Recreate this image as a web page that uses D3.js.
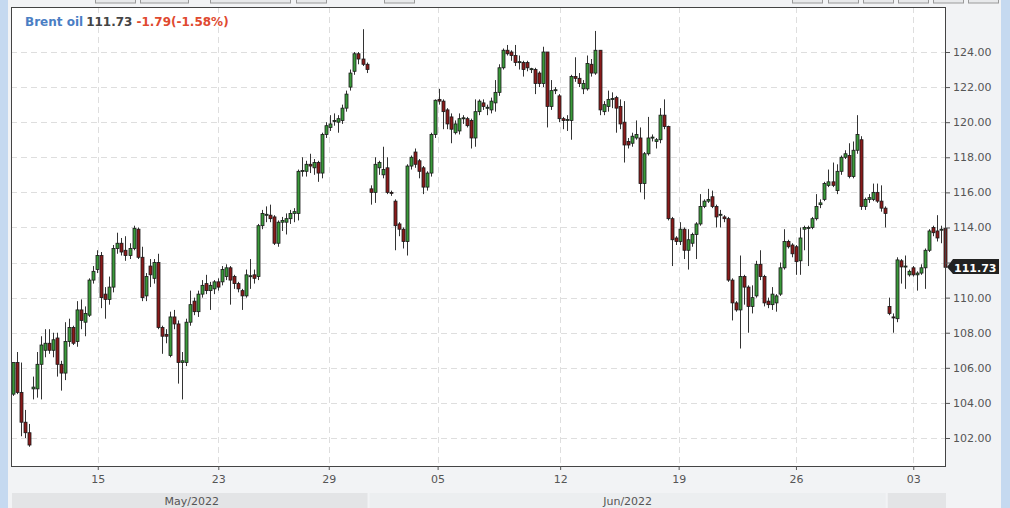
<!DOCTYPE html>
<html><head><meta charset="utf-8">
<script src="https://cdn.jsdelivr.net/npm/d3@7/dist/d3.min.js"></script>
<style>
html,body{margin:0;padding:0;background:#f2f3f5;}
svg{display:block;font-family:"DejaVu Sans",sans-serif;}
</style></head>
<body>
<svg id="chart" width="1010" height="508"></svg>
<script>
// ---- data (4-hour candles, Brent oil, May-Jul 2022) ----
const open  = [104.5,106.3,104.6,102.9,102.3,104.8,104.8,106.2,107.0,107.4,107.0,107.7,106.2,105.7,107.5,108.3,107.5,109.3,108.6,109.0,111.0,111.6,112.4,110.2,109.9,110.6,112.8,113.1,112.7,112.4,112.8,113.9,112.3,110.1,111.8,111.1,112.0,108.3,107.9,106.7,108.9,108.5,106.3,106.3,108.6,109.8,109.2,110.2,110.8,
110.4,110.5,110.9,110.9,111.2,111.7,111.2,110.8,110.4,110.1,111.2,111.3,111.2,114.1,114.7,114.7,114.6,113.1,114.3,114.3,114.5,114.8,114.8,117.2,117.2,117.6,117.4,117.7,117.1,119.3,119.7,120.1,120.0,120.1,120.8,122.0,122.9,123.9,123.6,123.3,
116.2,116.0,117.4,117.0,117.4,116.0,115.5,114.2,113.9,113.2,117.5,118.3,117.8,117.4,116.3,117.1,119.3,121.3,121.2,120.7,120.3,119.4,119.5,120.2,120.2,120.1,119.1,120.6,121.1,120.8,120.7,121.1,121.7,123.1,124.1,124.0,123.8,123.4,123.4,123.4,123.0,123.0,122.8,122.2,124.0,120.9,121.8,121.5,120.2,120.1,120.1,122.6,122.5,
121.9,121.9,123.3,122.8,124.1,120.6,120.9,121.3,121.4,120.9,120.0,118.9,118.8,119.1,119.1,116.5,118.2,119.1,118.9,119.0,120.4,119.75,114.5,113.4,113.2,113.9,112.7,113.1,113.6,114.2,115.2,115.5,115.75,115.2,114.7,114.6,114.5,111.0,109.7,109.3,111.2,110.6,109.5,110.1,111.9,111.2,109.8,109.6,
109.7,110.2,111.7,113.2,113.0,112.9,112.1,113.9,113.95,114.0,114.5,115.3,115.6,116.4,116.6,116.1,117.2,118.0,118.1,116.9,118.4,119.0,115.2,115.6,115.6,116.0,115.5,115.1,109.5,108.9,108.8,112.1,111.8,111.3,111.7,111.3,111.4,111.7,112.7,114.0,113.8,113.9,113.95];
const high  = [106.3,106.9,106.3,103.6,102.8,105.5,106.9,107.8,108.2,108.2,108.0,108.0,106.4,108.6,108.8,108.4,109.8,109.9,109.5,111.1,111.8,112.7,112.6,110.6,111.2,113.0,113.7,113.4,113.5,113.1,114.1,114.0,112.9,111.4,112.2,112.2,112.5,108.4,108.2,109.2,109.3,108.7,106.9,108.8,110.4,110.0,110.4,111.0,111.3,
110.9,111.0,111.1,111.8,111.9,111.8,111.3,110.9,110.5,111.6,112.2,111.6,114.2,115.0,115.2,115.3,114.7,114.4,114.6,114.8,115.0,115.1,117.3,118.0,117.8,118.2,117.9,117.8,119.4,120.0,120.4,120.5,120.4,121.0,121.8,123.0,124.0,124.0,125.3,123.4,
116.4,118.0,117.8,118.6,118.0,116.1,115.6,114.3,114.0,117.6,118.1,118.5,117.9,117.5,117.2,119.4,121.3,121.9,121.3,120.8,120.5,120.1,120.5,120.4,120.3,120.2,121.3,121.3,121.3,121.0,121.4,122.4,123.3,124.2,124.4,124.1,124.4,123.8,123.5,123.5,123.1,123.1,122.9,124.3,124.0,122.4,122.0,121.6,120.3,120.4,122.7,123.7,122.8,
122.4,123.8,123.6,125.2,124.1,121.2,121.8,121.7,121.5,121.3,121.2,119.1,119.4,120.1,119.7,118.3,120.3,119.3,119.1,120.8,121.3,119.8,114.6,113.5,114.3,114.0,113.9,113.7,114.3,115.9,115.6,116.2,116.1,115.3,115.0,114.7,114.6,111.1,109.8,112.4,111.3,110.7,110.7,112.1,112.7,111.3,110.0,110.6,
110.2,112.0,113.9,113.3,113.1,113.0,114.0,114.1,114.1,114.6,115.9,115.6,116.6,117.3,117.7,117.6,118.1,118.4,118.8,118.9,120.4,119.2,115.7,115.9,116.5,116.5,116.4,115.2,110.0,109.1,112.3,112.2,112.4,111.6,111.8,111.5,111.9,112.8,113.9,114.1,114.7,114.1,114.0];
const low   = [104.4,104.5,102.1,102.0,101.5,104.2,104.3,104.2,106.6,106.8,106.6,105.5,104.7,105.3,107.2,107.3,107.2,108.2,107.8,108.9,110.8,111.4,109.4,108.8,109.6,110.3,112.5,112.4,112.1,112.2,112.7,112.2,109.8,109.8,110.6,110.8,108.2,106.8,107.4,106.6,108.2,105.1,104.2,106.1,108.4,109.0,108.9,110.0,110.2,
109.3,110.2,110.4,110.7,111.0,109.6,110.5,110.3,109.3,110.0,110.5,110.8,111.0,113.9,114.3,114.3,113.0,112.9,113.8,113.6,114.2,114.3,114.4,116.9,116.9,117.1,117.0,116.6,116.8,119.1,119.5,119.8,119.4,119.9,120.6,121.8,122.7,123.3,123.2,122.8,
115.3,115.4,117.0,116.8,115.9,115.8,112.7,113.5,112.8,112.4,117.3,117.4,116.8,115.9,116.1,116.9,119.1,121.0,119.6,119.6,118.8,119.3,119.3,119.9,119.7,118.5,118.6,120.4,120.7,120.4,120.5,120.6,121.5,123.0,123.8,123.5,123.2,123.0,122.6,122.9,122.8,121.6,122.0,122.0,119.7,120.7,121.6,120.0,119.6,119.5,119.0,122.3,122.0,
121.6,121.8,122.6,122.7,120.4,120.4,120.6,120.8,119.4,119.6,117.7,118.5,118.6,119.0,116.0,115.6,118.1,118.9,118.5,118.8,119.6,114.4,111.8,113.0,113.0,112.2,111.6,112.9,112.2,114.1,115.1,115.4,115.1,114.0,114.0,114.3,110.9,108.7,109.2,107.1,109.6,108.0,109.1,110.0,111.0,109.5,109.4,109.3,
109.2,110.1,111.6,112.8,112.3,111.3,111.3,112.7,111.8,113.9,114.4,115.1,115.5,116.3,116.3,115.9,117.0,117.9,116.8,116.8,118.2,115.0,115.0,115.4,115.5,115.4,114.9,114.0,109.0,108.0,108.6,110.8,110.5,111.2,111.2,110.4,111.3,110.5,112.6,113.5,113.2,113.1,111.6];
const close = [106.3,104.6,102.9,102.3,101.6,104.9,106.2,107.3,107.4,107.0,107.6,106.2,105.7,107.5,108.3,107.4,109.3,108.7,109.1,111.0,111.5,112.4,110.0,109.9,110.6,112.8,113.1,112.6,112.4,112.8,113.95,112.3,110.0,111.2,111.3,112.0,108.3,107.8,107.8,108.9,108.5,106.3,106.4,108.6,109.6,109.2,110.2,110.7,110.4,
110.7,110.9,110.6,111.6,111.7,111.0,110.8,110.5,110.1,111.3,111.25,111.1,114.1,114.8,114.75,114.5,113.1,114.3,114.4,114.5,114.8,114.9,117.2,117.25,117.6,117.5,117.7,117.1,119.3,119.8,119.9,120.1,120.2,120.8,121.6,122.8,123.9,123.6,123.3,123.0,
116.0,117.6,117.7,117.3,116.0,115.95,114.1,113.9,113.2,117.5,118.0,117.6,117.2,116.3,117.1,119.3,121.25,121.2,120.6,119.9,119.6,119.9,120.2,120.25,119.8,119.1,120.6,121.2,120.9,120.85,121.2,121.7,123.1,124.1,123.9,123.8,123.4,123.45,123.0,123.1,123.05,122.2,122.2,124.0,120.9,121.8,121.85,120.2,120.1,120.15,122.6,122.5,122.2,
122.2,123.35,122.8,124.1,120.7,121.0,121.3,121.35,120.8,119.9,118.7,118.7,119.2,119.3,116.5,118.2,119.1,119.15,119.0,120.4,119.75,114.5,113.3,113.2,113.9,112.7,113.3,113.6,114.2,115.2,115.5,115.6,115.2,114.6,114.75,114.5,111.0,109.7,109.3,111.2,110.6,109.5,110.0,111.9,111.2,109.7,109.6,110.2,
110.1,111.7,113.2,112.9,112.5,112.05,113.4,114.0,114.0,114.5,115.2,115.4,116.5,116.6,116.4,117.2,118.0,118.2,116.9,118.4,119.3,115.2,115.6,115.7,116.0,115.5,115.1,114.8,109.1,108.85,112.15,111.75,111.8,111.5,111.3,111.4,111.7,112.7,113.8,113.7,113.4,113.9,111.73];

const yTicks = [102,104,106,108,110,112,114,116,118,120,122,124];
const xTickIdx    = [21.1, 51.1, 78.6, 105.7, 136.2, 165.7, 194.9, 224.1];
const xTickLabels = ["15","23","29","05","12","19","26","03"];
const monthLabels = ["May/2022","Jun/2022",""];
const monthStart  = [-0.5, 88.5, 217.5];
const monthEnd    = [88.5, 217.5, 232.5];
const title = {name:"Brent oil", last:"111.73", change:"-1.79(-1.58%)"};

// ---- layout ----
const svg = d3.select("#chart");
const P = {left:11, right:946, top:7, bottom:466};
const N = close.length;
const x = d3.scaleLinear().domain([-0.5, N - 0.5]).range([P.left, P.right + 1]);
const y = d3.scaleLinear().domain([102, 124]).range([438, 52]);
const lp = close[N-1];

// frame decorations
svg.append("rect").attr("x",0).attr("y",0).attr("width",1010).attr("height",508).attr("fill","#f2f3f5");
svg.append("rect").attr("x",0).attr("y",0).attr("width",8).attr("height",508).attr("fill","#c5d9f0");
svg.append("rect").attr("x",1001).attr("y",0).attr("width",9).attr("height",508).attr("fill","#c5d9f0");
// top toolbar remnants
const btnL = [[95,40],[140,48],[210,80],[296,30],[384,30],[792,30],[828,30],[863,30],[898,30],[933,30],[968,30]];
btnL.forEach(b=>svg.append("rect").attr("x",b[0]+0.5).attr("y",-8).attr("width",b[1]).attr("height",11)
  .attr("fill","#e8e9eb").attr("stroke","#9a9a9a"));

// month band
const mb = svg.append("g");
monthLabels.forEach((m,i)=>{
  const x0 = x(monthStart[i]), x1 = x(monthEnd[i]);
  mb.append("rect").attr("x",x0+1).attr("y",493).attr("width",x1-x0-2).attr("height",15)
    .attr("fill", i%2===0 ? "#e3e4e6" : "#eceef0");
  if (m) mb.append("text").attr("x",(x0+x1)/2 + (i===0?2:0)).attr("y",505).attr("text-anchor","middle")
    .attr("font-size",11).attr("fill","#555").text(m);
});

// plot area
svg.append("rect").attr("x",P.left).attr("y",P.top).attr("width",P.right-P.left).attr("height",P.bottom-P.top).attr("fill","#fff");

// grid
const grid = svg.append("g").attr("stroke","#dedede").attr("stroke-dasharray","6,4").attr("stroke-width",1);
yTicks.forEach(v=>grid.append("line").attr("x1",P.left).attr("x2",P.right).attr("y1",Math.round(y(v))+0.5).attr("y2",Math.round(y(v))+0.5));
xTickIdx.forEach(v=>grid.append("line").attr("y1",P.top).attr("y2",P.bottom).attr("x1",Math.round(x(v))+0.5).attr("x2",Math.round(x(v))+0.5));

// candles
const data = d3.range(N).map(i=>({i, o:open[i], h:high[i], l:low[i], c:close[i]}));
const cg = svg.append("g");
cg.selectAll("line.wick").data(data).join("line").attr("class","wick")
  .attr("x1",d=>Math.round(x(d.i))+0.5).attr("x2",d=>Math.round(x(d.i))+0.5)
  .attr("y1",d=>y(Math.max(d.h,d.o,d.c))).attr("y2",d=>y(Math.min(d.l,d.o,d.c)))
  .attr("stroke","#333").attr("stroke-width",1);
cg.selectAll("rect.body").data(data).join("rect").attr("class","body")
  .attr("x",d=>Math.round(x(d.i))-1)
  .attr("width",3)
  .attr("y",d=>y(Math.max(d.o,d.c)))
  .attr("height",d=>Math.max(1, Math.abs(y(d.o)-y(d.c))))
  .attr("fill",d=>d.c>=d.o ? "#3a9a3a" : "#8a1a1a")
  .attr("stroke","#1a1a1a").attr("stroke-width",0.8);

// plot border
svg.append("rect").attr("x",P.left+0.5).attr("y",P.top+0.5).attr("width",P.right-P.left-1).attr("height",P.bottom-P.top)
  .attr("fill","none").attr("stroke","#444").attr("stroke-width",1);

// axes (the label hidden behind the last-price marker is not drawn)
const ya = svg.append("g").attr("transform",`translate(${P.right},0)`)
  .call(d3.axisRight(y).tickValues(yTicks)
    .tickFormat(v => Math.abs(y(v) - y(lp)) < 14 ? "" : d3.format(".2f")(v)).tickSize(4).tickPadding(3));
ya.select(".domain").remove();
ya.selectAll("line").attr("stroke","#555");
ya.selectAll("text").attr("fill","#555").attr("font-size",11).attr("font-family","DejaVu Sans");

const xa = svg.append("g").attr("transform",`translate(0,${P.bottom})`)
  .call(d3.axisBottom(x).tickValues(xTickIdx).tickFormat((d,i)=>xTickLabels[i]).tickSize(4).tickPadding(5));
xa.select(".domain").remove();
xa.selectAll("line").attr("stroke","#555");
xa.selectAll("text").attr("fill","#555").attr("font-size",11).attr("font-family","DejaVu Sans");

// last price marker
const ly = Math.round(y(lp));
svg.append("path").attr("d",`M${P.right+1},${ly} L${P.right+7},${ly-8} L999,${ly-8} L999,${ly+7} L${P.right+7},${ly+7} Z`)
  .attr("fill","#222");
svg.append("text").attr("x",P.right+8).attr("y",ly+4.5).attr("font-size",11).attr("font-weight","bold")
  .attr("fill","#fff").text(lp.toFixed(2));

// header
const t = svg.append("text").attr("x",25).attr("y",26).attr("font-size",12).attr("font-weight","bold");
t.append("tspan").attr("fill","#4a7ec4").text(title.name);
t.append("tspan").attr("fill","#444").attr("dx",3).text(title.last);
t.append("tspan").attr("fill","#e0492f").attr("dx",4).text(title.change);
</script>
</body></html>
